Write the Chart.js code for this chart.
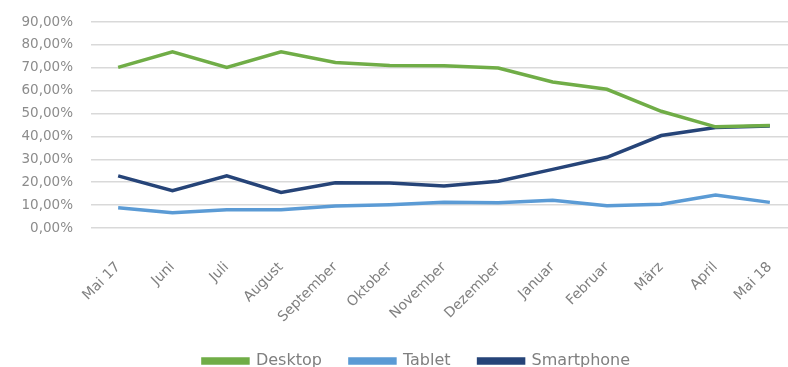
<!DOCTYPE html>
<html>
<head>
<meta charset="utf-8">
<script src="https://cdn.jsdelivr.net/npm/chart.js@4"></script>
<style>
  html, body { margin: 0; padding: 0; background: #fff; overflow: hidden; }
  #wrap { width: 800px; height: 379px; }
</style>
</head>
<body>
<div id="wrap"><canvas id="trafficChart"></canvas></div>
<script>
// Monate Mai 2017 bis Mai 2018
const months = ["Mai 17", "Juni", "Juli", "August", "September", "Oktober", "November",
  "Dezember", "Januar", "Februar", "März", "April", "Mai 18"];

// Anteil in Prozent
const desktop = [70.2, 77.0, 70.2, 77.0, 72.3, 71.0, 70.9, 69.9, 63.8, 60.6, 51.0, 44.2, 44.8];
const tablet = [8.8, 6.7, 8.0, 8.0, 9.6, 10.2, 11.3, 11.0, 12.1, 9.7, 10.4, 14.4, 11.2];
const smartphone = [22.8, 16.3, 22.8, 15.5, 19.8, 19.7, 18.4, 20.4, 25.6, 30.9, 40.4, 43.9, 44.6];

const yTicks = [0, 10, 20, 30, 40, 50, 60, 70, 80, 90];

const ctx = document.getElementById("trafficChart").getContext("2d");

function line(label, data, color) {
  return {
    label: label,
    data: data,
    borderColor: color,
    backgroundColor: color,
    borderWidth: 3.5,
    pointRadius: 0,
    tension: 0,
    fill: false
  };
}

// shift the legend a bit to the right, like in the original
const legendShift = {
  id: "legendShift",
  afterLayout(chart) {
    chart.legend.left += 18;
    chart.legend.right += 18;
  }
};

new Chart(ctx, {
  type: "line",
  data: {
    labels: months,
    datasets: [
      line("Desktop", desktop, "#70AD47"),
      line("Tablet", tablet, "#5B9BD5"),
      line("Smartphone", smartphone, "#264478")
    ]
  },
  options: {
    responsive: true,
    maintainAspectRatio: false,
    animation: false,
    layout: { padding: { top: 22, right: 3, left: 0, bottom: 0 } },
    scales: {
      x: {
        offset: true,
        grid: { display: false },
        border: { display: false },
        afterFit: (axis) => {
          axis.height = 97;
          axis.paddingLeft = 0;
          axis.paddingRight = 0;
        },
        ticks: {
          minRotation: 45,
          maxRotation: 45,
          color: "#7F7F7F",
          font: { family: "DejaVu Sans", size: 14 },
          padding: 23
        }
      },
      y: {
        min: 0,
        max: 90,
        afterBuildTicks: (axis) => { axis.ticks = yTicks.map(v => ({ value: v })); },
        afterFit: (axis) => {
          axis.width = 91;
          axis.paddingTop = 0;
          axis.paddingBottom = 0;
        },
        grid: { color: "#D9D9D9", lineWidth: 1.5, drawTicks: false },
        border: { display: false },
        ticks: {
          color: "#8C8C8C",
          padding: 18,
          font: { family: "DejaVu Sans", size: 13.5 },
          callback: (v) => v.toFixed(2).replace(".", ",") + "%"
        }
      }
    },
    plugins: {
      legend: {
        position: "bottom",
        labels: {
          boxWidth: 45,
          boxHeight: 4,
          padding: 28,
          color: "#7F7F7F",
          font: { family: "DejaVu Sans", size: 16 }
        }
      },
      tooltip: { enabled: false }
    }
  },
  plugins: [legendShift]
});
</script>
</body>
</html>
